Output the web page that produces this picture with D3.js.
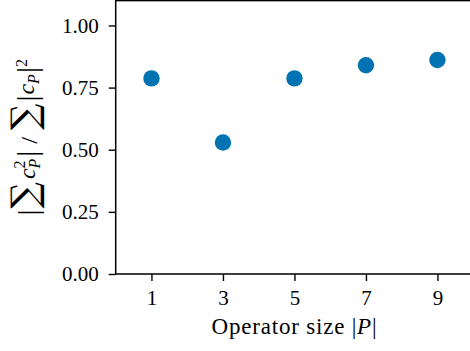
<meta charset="utf-8">
<html>
<head>
<style>
  body { margin: 0; background: #fff; }
  svg { display: block; }
  .tick text { font-family: "Liberation Serif", serif; font-size: 21px; fill: #000; }
  .lbl { font-family: "Liberation Serif", serif; fill: #000; }
  .sig { font-family: "DejaVu Serif", serif; }
</style>
</head>
<body>
<div id="chart"></div>
<script src="https://d3js.org/d3.v7.min.js"></script>
<script>
// data
var sizes = [1, 3, 5, 7, 9];
var ratio = [0.787, 0.529, 0.787, 0.84, 0.861];
var xTicks = [1, 3, 5, 7, 9];
var yTicks = [0, 0.25, 0.5, 0.75, 1.0];

var W = 470, H = 351;
var mLeft = 115.7, mBottom = 274, mTop = 0.6;

var svg = d3.select("#chart").append("svg")
  .attr("width", W).attr("height", H);

var x = d3.scaleLinear().domain([0, 10]).range([mLeft, 473.2]);
var y = d3.scaleLinear().domain([0, 1.1]).range([mBottom, mTop]);

// y axis
var ya = svg.append("g")
  .attr("transform", "translate(" + mLeft + ",0)")
  .call(d3.axisLeft(y).tickValues(yTicks).tickFormat(d3.format(".2f"))
    .tickSize(7).tickPadding(10));
ya.select(".domain").remove();

// x axis
var xa = svg.append("g")
  .attr("transform", "translate(0," + mBottom + ")")
  .call(d3.axisBottom(x).tickValues(xTicks).tickFormat(d3.format("d"))
    .tickSize(7).tickPadding(9));
xa.select(".domain").remove();

svg.selectAll(".tick line").attr("stroke", "#000").attr("stroke-width", 1.4);

// frame (right edge falls outside the picture)
svg.append("rect")
  .attr("x", mLeft).attr("y", mTop)
  .attr("width", x(10) - mLeft).attr("height", mBottom - mTop)
  .attr("fill", "none").attr("stroke", "#000").attr("stroke-width", 1.5);

// points
svg.selectAll("circle.pt")
  .data(sizes)
  .enter().append("circle")
    .attr("class", "pt")
    .attr("cx", function(d) { return x(d); })
    .attr("cy", function(d, i) { return y(ratio[i]); })
    .attr("r", 8.2)
    .attr("fill", "#0173b2");

// x label
var xl = svg.append("text").attr("class", "lbl")
  .attr("x", x(5)).attr("y", 334)
  .attr("text-anchor", "middle").style("font-size", "23px")
  .style("letter-spacing", "0.8px");
xl.append("tspan").text("Operator size |");
xl.append("tspan").style("font-style", "italic").text("P");
xl.append("tspan").text("|");

// y label: |sum c_P^2| / sum |c_P|^2
var yl = svg.append("text").attr("class", "lbl")
  .attr("transform", "translate(35," + ((mBottom + mTop) / 2) + ") rotate(-90)")
  .attr("text-anchor", "middle").style("font-size", "24px");
function part(txt, o) {
  var t = yl.append("tspan").text(txt);
  if (o.size) t.style("font-size", o.size + "px");
  if (o.it) t.style("font-style", "italic");
  if (o.cls) t.attr("class", o.cls);
  if (o.dx) t.attr("dx", o.dx);
  if (o.dy) t.attr("dy", o.dy);
  return t;
}
part("|", {size: 30, dy: 3});
part("∑", {size: 37, cls: "sig", dx: 1, dy: -1});
part("c", {it: true, dx: 3, dy: -2});
part("2", {size: 16, dy: -10});
part("P", {size: 16, it: true, dx: -8, dy: 15});
part("|", {size: 30, dx: 2, dy: -3});
part("/", {dx: 7});
part("∑", {size: 37, cls: "sig", dx: 7, dy: 0});
part("|", {size: 30, dx: 2});
part("c", {it: true, dx: 1, dy: -3});
part("P", {size: 16, it: true, dy: 5});
part("|", {size: 30, dx: 1, dy: -2});
part("2", {size: 16, dy: -10});
</script>
</body>
</html>
